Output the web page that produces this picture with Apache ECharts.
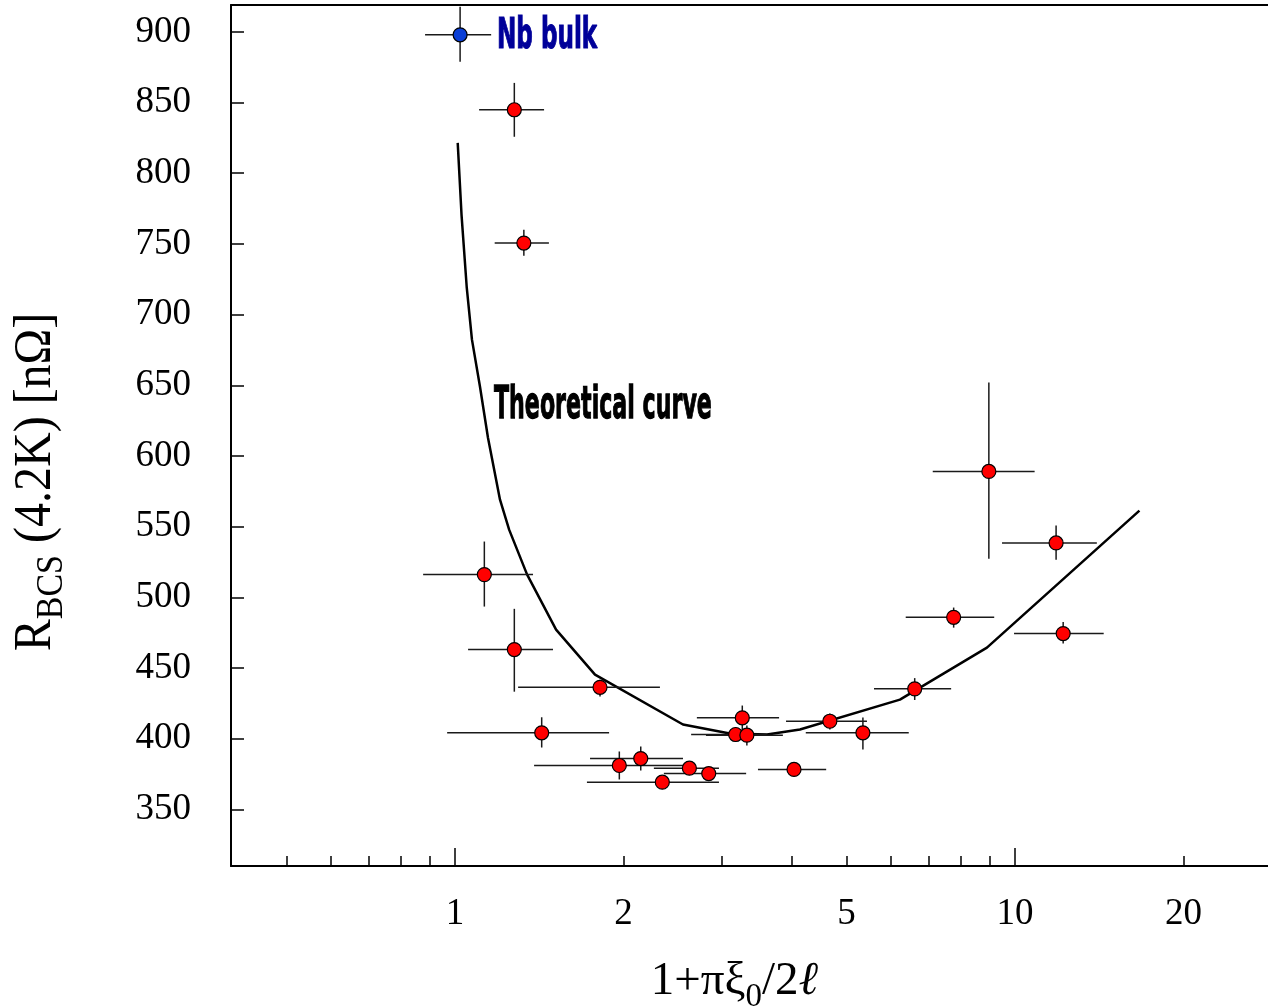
<!DOCTYPE html>
<html>
<head>
<meta charset="utf-8">
<script src="https://cdn.jsdelivr.net/npm/echarts@6/dist/echarts.min.js"></script>
<style>
  html, body { margin: 0; padding: 0; background: #ffffff; }
  #chart { width: 1268px; height: 1008px; }
</style>
</head>
<body>
<div id="chart"></div>
<script>
// Thin Nb films: x = 1+πξ0/2ℓ, y = R_BCS(4.2 K) in nΩ, with error-bar limits
const filmX     = [1.276, 1.327, 1.128, 1.276, 1.428, 1.815, 1.965, 2.146, 2.345, 2.621, 2.838, 3.258, 3.170, 3.320, 4.030, 4.670, 5.350, 6.620, 7.770, 8.980, 11.84, 12.19];
const filmY     = [844.9, 750.6, 516.1, 463.1, 404.2, 436.4, 381.1, 386.0, 369.3, 379.2, 375.4, 414.8, 403.0, 402.5, 378.3, 412.4, 404.2, 435.3, 485.9, 589.1, 538.5, 474.4];
const filmXLow  = [1.104, 1.177, 0.877, 1.055, 0.968, 1.296, 1.384, 1.742, 1.720, 2.265, 2.360, 2.703, 2.640, 2.806, 3.475, 3.900, 4.230, 5.600, 6.380, 7.130, 9.480, 9.960];
const filmXHigh = [1.442, 1.471, 1.378, 1.496, 1.884, 2.322, 2.627, 2.553, 2.960, 2.960, 3.310, 3.790, 3.600, 3.850, 4.600, 5.440, 6.460, 7.690, 9.180, 10.84, 14.00, 14.40];
const filmYLow  = [825.8, 741.6, 493.5, 433.3, 393.8, 429.9, 371.2, 377.6, 365.0, 375.0, 371.0, 405.0, 398.0, 395.3, 374.0, 406.5, 392.4, 427.4, 478.6, 527.4, 526.7, 467.3];
const filmYHigh = [863.9, 760.0, 539.5, 491.9, 415.2, 441.8, 391.0, 394.5, 373.5, 383.5, 380.0, 423.5, 408.0, 409.4, 382.5, 417.8, 415.0, 442.9, 492.8, 651.9, 550.8, 482.5];

// Bulk niobium reference point
const bulkX = [1.021];
const bulkY = [897.9];
const bulkXLow = [0.884];
const bulkXHigh = [1.160];
const bulkYLow = [878.8];
const bulkYHigh = [917.7];

// Theoretical curve
const curveX = [1.011, 1.027, 1.049, 1.072, 1.108, 1.145, 1.203, 1.249, 1.345, 1.515, 1.778, 2.553, 3.095, 3.607, 4.130, 6.230, 8.910, 16.68];
const curveY = [821.5, 770.6, 719.7, 682.3, 649.0, 612.9, 569.1, 547.9, 516.1, 477.2, 445.4, 410.1, 403.7, 403.0, 406.5, 427.7, 464.5, 561.4];

// Axis ticks and labels
const xTickValues  = [0.5, 0.6, 0.7, 0.8, 0.9, 1, 2, 3, 4, 5, 6, 7, 8, 9, 10, 20];
const xMajorTicks  = [1, 10];
const xLabelValues = [1, 2, 5, 10, 20];
const yTickValues  = [350, 400, 450, 500, 550, 600, 650, 700, 750, 800, 850, 900];

const SERIF = '"Liberation Serif", "Times New Roman", serif';
const X_MIN = 0.398, X_MAX = 28.3, Y_MIN = 310, Y_MAX = 919;

function errorRows(xs, ys, xl, xh, yl, yh) {
  return xs.map((x, i) => [x, ys[i], xl[i], xh[i], yl[i], yh[i]]);
}

function renderErrorBars(params, api) {
  const x = api.value(0), y = api.value(1);
  const left = api.coord([api.value(2), y]);
  const right = api.coord([api.value(3), y]);
  const bottom = api.coord([x, api.value(4)]);
  const top = api.coord([x, api.value(5)]);
  const style = { stroke: '#1a1a1a', lineWidth: 1.5 };
  return {
    type: 'group',
    children: [
      { type: 'line', shape: { x1: left[0], y1: left[1], x2: right[0], y2: right[1] }, style },
      { type: 'line', shape: { x1: bottom[0], y1: bottom[1], x2: top[0], y2: top[1] }, style }
    ]
  };
}

const chart = echarts.init(document.getElementById('chart'), null, { renderer: 'canvas' });

const baseLogAxis = {
  type: 'log',
  logBase: 10,
  min: X_MIN,
  max: X_MAX,
  splitLine: { show: false },
  minorTick: { show: false },
  minorSplitLine: { show: false }
};

chart.setOption({
  animation: false,
  backgroundColor: '#ffffff',
  grid: { left: 231, right: 0, top: 5, bottom: 142, containLabel: false, outerBoundsMode: 'none' },
  xAxis: [
    Object.assign({}, baseLogAxis, {
      position: 'bottom',
      axisLine: { show: true, onZero: false, lineStyle: { color: '#000', width: 2 } },
      axisTick: { show: true, inside: true, length: 10, customValues: xTickValues, lineStyle: { color: '#000', width: 1.5 } },
      axisLabel: {
        show: true, customValues: xLabelValues, margin: 30,
        fontFamily: SERIF, fontSize: 37, color: '#000',
        formatter: v => String(Math.round(v))
      },
      name: '{a|1+πξ}{s|0}{a|/2}{l|ℓ}',
      nameLocation: 'middle',
      nameGap: 92,
      nameTextStyle: {
        fontFamily: SERIF, color: '#000', padding: [0, 30, 0, 0],
        rich: {
          a: { fontFamily: SERIF, fontSize: 47, color: '#000', verticalAlign: 'bottom', padding: [0, 0, 9, 0] },
          s: { fontFamily: SERIF, fontSize: 33, color: '#000', verticalAlign: 'bottom' },
          l: { fontFamily: SERIF, fontSize: 47, fontStyle: 'italic', color: '#000', verticalAlign: 'bottom', padding: [0, 0, 9, 0] }
        }
      }
    }),
    Object.assign({}, baseLogAxis, {
      position: 'bottom',
      axisLine: { show: false, onZero: false },
      axisTick: { show: true, inside: true, length: 18, customValues: xMajorTicks, lineStyle: { color: '#000', width: 1.5 } },
      axisLabel: { show: false }
    }),
    Object.assign({}, baseLogAxis, {
      position: 'top',
      axisLine: { show: true, onZero: false, lineStyle: { color: '#000', width: 2 } },
      axisTick: { show: false },
      axisLabel: { show: false }
    })
  ],
  yAxis: {
    type: 'value',
    min: Y_MIN,
    max: Y_MAX,
    axisLine: { show: true, onZero: false, lineStyle: { color: '#000', width: 2 } },
    axisTick: { show: true, inside: true, length: 13, customValues: yTickValues, lineStyle: { color: '#000', width: 1.5 } },
    axisLabel: { show: true, customValues: yTickValues, margin: 40, fontFamily: SERIF, fontSize: 37, color: '#000' },
    splitLine: { show: false }
  },
  series: [
    {
      name: 'Theoretical curve',
      type: 'line',
      xAxisIndex: 0,
      data: curveX.map((x, i) => [x, curveY[i]]),
      showSymbol: false,
      symbol: 'none',
      smooth: false,
      lineStyle: { color: '#000', width: 2.5 },
      z: 2
    },
    {
      name: 'film errors',
      type: 'custom',
      xAxisIndex: 0,
      renderItem: renderErrorBars,
      data: errorRows(filmX, filmY, filmXLow, filmXHigh, filmYLow, filmYHigh)
        .concat(errorRows(bulkX, bulkY, bulkXLow, bulkXHigh, bulkYLow, bulkYHigh)),
      encode: { x: [0, 2, 3], y: [1, 4, 5] },
      z: 3,
      silent: true
    },
    {
      name: 'films',
      type: 'scatter',
      xAxisIndex: 0,
      data: filmX.map((x, i) => [x, filmY[i]]),
      symbol: 'circle',
      symbolSize: 14,
      itemStyle: { color: '#ff0000', borderColor: '#000', borderWidth: 1.2, opacity: 1 },
      z: 4
    },
    {
      name: 'Nb bulk',
      type: 'scatter',
      xAxisIndex: 0,
      data: bulkX.map((x, i) => [x, bulkY[i]]),
      symbol: 'circle',
      symbolSize: 14,
      itemStyle: { color: '#0a3fd6', borderColor: '#000', borderWidth: 1.2, opacity: 1 },
      z: 4
    }
  ],
  graphic: [
    // y-axis title, reading bottom to top
    {
      type: 'text',
      x: 40, y: 482,
      rotation: Math.PI / 2,
      scaleY: 1.12,
      style: {
        text: '{r|R}{s|BCS}{n| (4.2K) [nΩ]}',
        align: 'center', verticalAlign: 'middle',
        rich: {
          r: { fontFamily: SERIF, fontSize: 48, fill: '#000', verticalAlign: 'bottom', padding: [0, 0, 8, 0] },
          s: { fontFamily: SERIF, fontSize: 34, fill: '#000', verticalAlign: 'bottom' },
          n: { fontFamily: SERIF, fontSize: 48, fill: '#000', verticalAlign: 'bottom', padding: [0, 0, 8, 0] }
        }
      },
      z: 10
    },
    {
      type: 'text',
      x: 497, y: 37,
      scaleX: 0.55,
      style: {
        text: 'Nb bulk',
        fontFamily: '"DejaVu Sans", sans-serif', fontWeight: 'bold', fontSize: 42,
        fill: '#000099', stroke: '#000099', lineWidth: 1.2,
        align: 'left', verticalAlign: 'middle'
      },
      z: 10
    },
    {
      type: 'text',
      x: 494, y: 406,
      scaleX: 0.515,
      scaleY: 1.05,
      style: {
        text: 'Theoretical curve',
        fontFamily: '"DejaVu Sans", sans-serif', fontWeight: 'bold', fontSize: 43,
        fill: '#000000', stroke: '#000000', lineWidth: 1.2,
        align: 'left', verticalAlign: 'middle'
      },
      z: 10
    }
  ]
});
</script>
</body>
</html>
